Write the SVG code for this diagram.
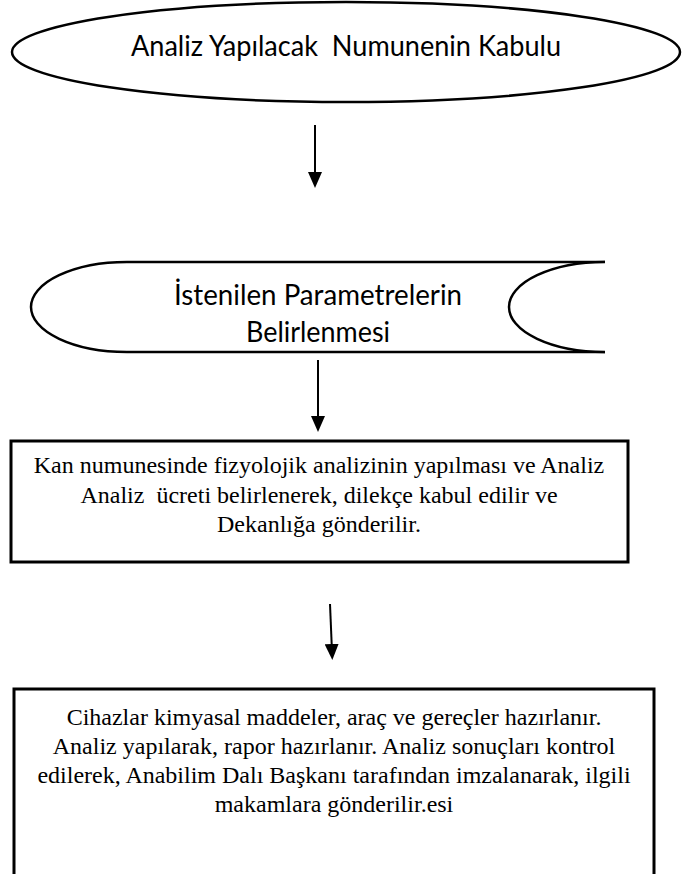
<svg xmlns="http://www.w3.org/2000/svg" width="685" height="874" viewBox="0 0 685 874">
<style>
  .shape { fill: #ffffff; stroke: #000000; stroke-width: 2.5; }
  .box { fill: #ffffff; stroke: #000000; stroke-width: 3; }
  .sans { font-size: 29px; fill: #000000; text-anchor: middle; }
  .tnr { font-size: 24px; fill: #000000; text-anchor: middle; }
  .conn { stroke: #000000; stroke-width: 2; fill: none; marker-end: url(#ah); }
</style>
<defs>
  <marker id="ah" markerWidth="16" markerHeight="14" viewBox="0 0 16 14" refX="8" refY="7" orient="auto" markerUnits="userSpaceOnUse">
    <path d="M0,0 L16,7 L0,14 z" fill="#000000"/>
  </marker>
</defs>
<rect x="0" y="0" width="685" height="874" fill="#ffffff"/>

<g id="node-start" font-family="Lato, 'Open Sans', sans-serif">
  <ellipse class="shape" cx="346" cy="52" rx="334" ry="50"/>
  <text class="sans" x="346" y="56" textLength="430" lengthAdjust="spacingAndGlyphs" xml:space="preserve">Analiz Yapılacak  Numunenin Kabulu</text>
</g>

<g id="node-parameters" font-family="Lato, 'Open Sans', sans-serif">
  <path class="shape" d="M127,262 L605,262 M605,352 L127,352 A96,45 0 0 1 127,262"/>
  <path class="shape" fill="none" d="M605,262 A96,45 0 0 0 605,352"/>
  <text class="sans" x="318" y="305" textLength="288" lengthAdjust="spacingAndGlyphs">İstenilen Parametrelerin</text>
  <text class="sans" x="318" y="342" textLength="144" lengthAdjust="spacingAndGlyphs">Belirlenmesi</text>
</g>

<g id="node-analysis-fee" font-family="Liberation Serif, serif">
  <rect class="box" x="11" y="441" width="617" height="121"/>
  <text class="tnr" x="319" y="473">Kan numunesinde fizyolojik analizinin yapılması ve Analiz</text>
  <text class="tnr" x="319" y="503" xml:space="preserve">Analiz  ücreti belirlenerek, dilekçe kabul edilir ve</text>
  <text class="tnr" x="319" y="532">Dekanlığa gönderilir.</text>
</g>

<g id="node-report" font-family="Liberation Serif, serif">
  <rect class="box" x="14" y="689" width="640" height="200"/>
  <text class="tnr" x="334" y="725">Cihazlar kimyasal maddeler, araç ve gereçler hazırlanır.</text>
  <text class="tnr" x="334" y="754">Analiz yapılarak, rapor hazırlanır. Analiz sonuçları kontrol</text>
  <text class="tnr" x="334" y="783">edilerek, Anabilim Dalı Başkanı tarafından imzalanarak, ilgili</text>
  <text class="tnr" x="334" y="812">makamlara gönderilir.esi</text>
</g>

<g id="connectors">
  <line class="conn" x1="315" y1="125" x2="315" y2="180"/>
  <line class="conn" x1="318" y1="360" x2="318" y2="424"/>
  <line class="conn" x1="330" y1="604" x2="332" y2="652"/>
</g>
</svg>
